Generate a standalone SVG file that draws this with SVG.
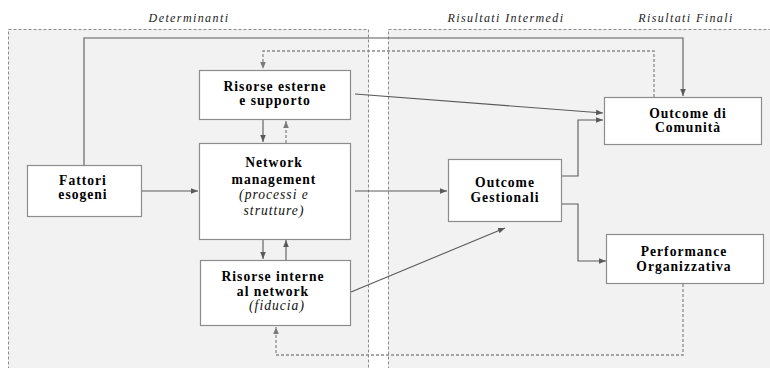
<svg xmlns="http://www.w3.org/2000/svg" width="770" height="368" viewBox="0 0 770 368">
<defs>
<style>
.region{fill:#f2f2f2;stroke:#8a8a8a;stroke-width:1;stroke-dasharray:3,2}
.box{fill:#ffffff;stroke:#8c8c8c;stroke-width:1.2}
.t{font-family:'Liberation Serif','Times New Roman',Tinos,'DejaVu Serif',serif;font-size:13.6px;font-weight:bold;fill:#000;text-anchor:middle;letter-spacing:1px}
.ti{font-family:'Liberation Serif','Times New Roman',Tinos,'DejaVu Serif',serif;font-size:13.6px;font-style:italic;fill:#111;text-anchor:middle;letter-spacing:1px}
.hdr{font-family:'Liberation Serif','Times New Roman',Tinos,'DejaVu Serif',serif;font-size:12px;font-style:italic;fill:#222;text-anchor:middle;letter-spacing:1.4px}
.ln{fill:none;stroke:#5a5a5a;stroke-width:1.1}
.dl{fill:none;stroke:#8a8a8a;stroke-width:1.3;stroke-dasharray:3,2}
</style>
<marker id="ah" viewBox="0 0 10 10" refX="10" refY="5" markerWidth="7" markerHeight="7" markerUnits="userSpaceOnUse" orient="auto">
<path d="M0,1 L10,5 L0,9 Z" fill="#5a5a5a"/>
</marker>
<marker id="ahd" viewBox="0 0 10 10" refX="10" refY="5" markerWidth="7" markerHeight="7" markerUnits="userSpaceOnUse" orient="auto">
<path d="M0,1 L10,5 L0,9 Z" fill="#7a7a7a"/>
</marker>
</defs>
<rect width="770" height="368" fill="#ffffff"/>
<g id="regions">
<rect class="region" x="8.5" y="29.5" width="360" height="345"/>
<rect class="region" x="388.5" y="29.5" width="390" height="345"/>
<text class="hdr" x="189" y="22">Determinanti</text>
<text class="hdr" x="506" y="22">Risultati Intermedi</text>
<text class="hdr" x="686" y="22">Risultati Finali</text>
</g>
<g id="connectors">
<polyline class="ln" points="84,165 84,38 683,38 683,96" marker-end="url(#ah)"/>
<polyline class="dl" points="654,97 654,51 263,51 263,69" marker-end="url(#ahd)"/>
<line class="ln" x1="141" y1="191" x2="198" y2="191" marker-end="url(#ah)"/>
<line class="ln" x1="263" y1="120" x2="263" y2="142" marker-end="url(#ah)"/>
<line class="dl" x1="286" y1="143" x2="286" y2="121" marker-end="url(#ahd)"/>
<line class="ln" x1="263" y1="240" x2="263" y2="259" marker-end="url(#ah)"/>
<line class="ln" x1="286" y1="260" x2="286" y2="240" marker-end="url(#ah)"/>
<line class="ln" x1="355" y1="94" x2="603" y2="113" marker-end="url(#ah)"/>
<line class="ln" x1="355" y1="191" x2="447" y2="191" marker-end="url(#ah)"/>
<line class="ln" x1="351" y1="292" x2="505" y2="228" marker-end="url(#ah)"/>
<polyline class="ln" points="562,176 578,176 578,120 603,120" marker-end="url(#ah)"/>
<polyline class="ln" points="562,204 578,204 578,261 606,261" marker-end="url(#ah)"/>
<polyline class="dl" points="683,284 683,355 276,355 276,327" marker-end="url(#ahd)"/>
</g>
<g id="risorse-esterne">
<rect class="box" x="199.5" y="70.5" width="151" height="49"/>
<text class="t" x="275" y="91">Risorse esterne</text>
<text class="t" x="275" y="105">e supporto</text>
</g>
<g id="network-management">
<rect class="box" x="199.5" y="143.5" width="151" height="96"/>
<text class="t" x="274" y="167">Network</text>
<text class="t" x="274" y="184">management</text>
<text class="ti" x="274" y="199">(processi e</text>
<text class="ti" x="274" y="215">strutture)</text>
</g>
<g id="fattori-esogeni">
<rect class="box" x="27.5" y="165.5" width="114" height="51"/>
<text class="t" x="83" y="185">Fattori</text>
<text class="t" x="83" y="199">esogeni</text>
</g>
<g id="risorse-interne">
<rect class="box" x="200.5" y="260.5" width="150" height="65"/>
<text class="t" x="273" y="281">Risorse interne</text>
<text class="t" x="273" y="296">al network</text>
<text class="ti" x="277" y="310">(fiducia)</text>
</g>
<g id="outcome-gestionali">
<rect class="box" x="448.5" y="159.5" width="113" height="62"/>
<text class="t" x="505" y="187">Outcome</text>
<text class="t" x="505" y="202">Gestionali</text>
</g>
<g id="outcome-comunita">
<rect class="box" x="604.5" y="97.5" width="157" height="47"/>
<text class="t" x="688" y="118">Outcome di</text>
<text class="t" x="688" y="132">Comunità</text>
</g>
<g id="performance">
<rect class="box" x="606.5" y="234.5" width="157" height="49"/>
<text class="t" x="684" y="256">Performance</text>
<text class="t" x="684" y="271">Organizzativa</text>
</g>
</svg>
